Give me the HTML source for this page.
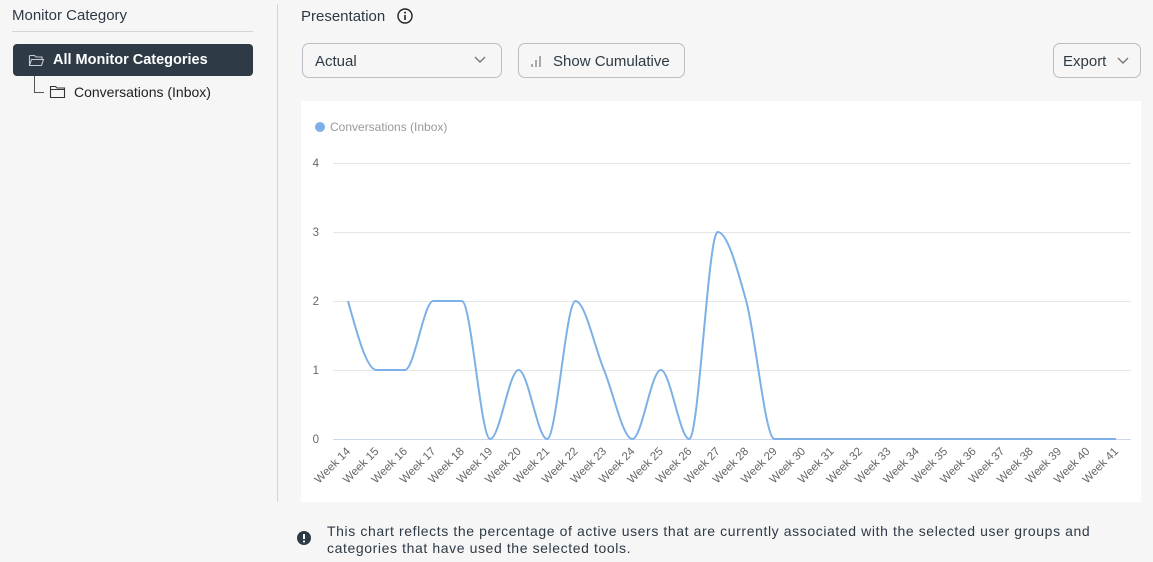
<!DOCTYPE html>
<html><head><meta charset="utf-8"><style>
body{margin:0;width:1153px;height:562px;background:#f6f6f6;font-family:"Liberation Sans",sans-serif;position:relative;overflow:hidden;color:#2d3a45}
.a{position:absolute}
.btn{position:absolute;border:1px solid #b9bec4;border-radius:7px;background:#fff0;box-sizing:border-box;font-size:15px;color:#2d3a45}
</style></head><body>
<div class="a" style="left:12px;top:7px;font-size:15px;color:#2d3a45">Monitor Category</div>
<div class="a" style="left:12px;top:31px;width:241px;height:1px;background:#d3d6d9"></div>
<div class="a" style="left:13px;top:44px;width:240px;height:32px;background:#2e3b46;border-radius:4px"></div>
<svg class="a" style="left:28px;top:52px" width="17" height="16" viewBox="0 0 17 16"><path d="M1.5 3.5h5l1.5 1.5h6v2M1.5 3.5v10h12l2-6h-12l-2 6" fill="none" stroke="#c5cbd0" stroke-width="1.1"/></svg>
<div class="a" style="left:53px;top:52px;font-size:14.5px;color:#fff;font-weight:bold">All Monitor Categories</div>
<div class="a" style="left:34px;top:76px;width:1px;height:16px;background:#555"></div>
<div class="a" style="left:34px;top:92px;width:10px;height:1px;background:#555"></div>
<svg class="a" style="left:49px;top:84px" width="17" height="16" viewBox="0 0 17 16"><path d="M1.5 2.5h5l1.5 1.5h7.5v9.5h-14zM1.5 5.5h14" fill="none" stroke="#333" stroke-width="1.1"/></svg>
<div class="a" style="left:74px;top:84px;font-size:14px;color:#222">Conversations (Inbox)</div>
<div class="a" style="left:277px;top:4px;width:1px;height:498px;background:#d3d6d9"></div>
<div class="a" style="left:301px;top:8px;font-size:15px">Presentation</div>
<svg class="a" style="left:396px;top:7px" width="18" height="18"><circle cx="9" cy="9" r="7" fill="none" stroke="#222" stroke-width="1.4"/><circle cx="9" cy="5.6" r="1" fill="#222"/><path d="M9 8v5" stroke="#222" stroke-width="1.6"/></svg>
<div class="btn" style="left:302px;top:43px;width:200px;height:35px;padding:9px 12px">Actual</div>
<svg class="a" style="left:474px;top:55px" width="12" height="10"><path d="M1 2l5 5 5-5" fill="none" stroke="#777" stroke-width="1.4"/></svg>
<div class="btn" style="left:518px;top:43px;width:167px;height:35px;padding:9px 0 0 34px">Show Cumulative</div>
<svg class="a" style="left:530px;top:54px" width="12" height="14"><path d="M2 13v-3M6 13v-7M10 13v-11" stroke="#888" stroke-width="1.4"/></svg>
<div class="btn" style="left:1053px;top:43px;width:88px;height:35px;padding:9px 9px">Export</div>
<svg class="a" style="left:1117px;top:56px" width="12" height="10"><path d="M1 2l5 5 5-5" fill="none" stroke="#777" stroke-width="1.4"/></svg>
<div class="a" style="left:301px;top:101px;width:840px;height:401px;background:#fff"></div>
<svg class="a" style="left:0;top:0" width="1153" height="562">
<circle cx="320" cy="127" r="5" fill="#7cb0e6"/>
<text x="330" y="131" font-size="12" fill="#999" font-family="Liberation Sans,sans-serif">Conversations (Inbox)</text>
<g stroke="#e6e6e6" stroke-width="1"><path d="M333 163.5H1131M333 232.5H1131M333 301.5H1131M333 370.5H1131"/></g>
<path d="M333 439.5H1131" stroke="#ccd6eb"/>
<g font-size="11.5" fill="#666" font-family="Liberation Sans,sans-serif" text-anchor="end">
<text x="319" y="167">4</text><text x="319" y="236">3</text><text x="319" y="305">2</text><text x="319" y="374">1</text><text x="319" y="443">0</text>
</g>
<path d="M348,301 C357.5,335.5 366.9,370 376.4,370 C385.9,370 395.4,370 404.9,370 C414.4,370 423.8,301 433.3,301 C442.8,301 452.3,301 461.8,301 C471.3,301 480.7,439 490.2,439 C499.7,439 509.1,370 518.6,370 C528.1,370 537.6,439 547.1,439 C556.6,439 566,301 575.5,301 C585,301 594.5,347 604,370 C613.5,393 622.9,439 632.4,439 C641.9,439 651.3,370 660.8,370 C670.3,370 679.8,439 689.3,439 C698.8,439 708.2,232 717.7,232 C727.2,232 736.7,266.5 746.2,301 C755.7,335.5 765.1,439 774.6,439 L1116,439" fill="none" stroke="#7cb0e6" stroke-width="2"/>
<g font-size="11.5" fill="#666" font-family="Liberation Sans,sans-serif" text-anchor="end" id="wk"></g>
</svg>
<svg class="a" style="left:296px;top:530px" width="16" height="16"><circle cx="8" cy="8" r="7" fill="#2d3a45"/><path d="M8 4v5" stroke="#fff" stroke-width="2"/><circle cx="8" cy="11.5" r="1.1" fill="#fff"/></svg>
<div class="a" style="left:327px;top:523px;font-size:14px;line-height:17px;width:800px;letter-spacing:0.6px">This chart reflects the percentage of active users that are currently associated with the selected user groups and categories that have used the selected tools.</div>
<script>
var g=document.getElementById('wk'),s='';
for(var i=0;i<28;i++){var x=348+28.44*i+3,y=452;s+='<text transform="translate('+x.toFixed(1)+','+y+') rotate(-45)">Week '+(14+i)+'</text>';}
g.innerHTML=s;
</script>
</body></html>
